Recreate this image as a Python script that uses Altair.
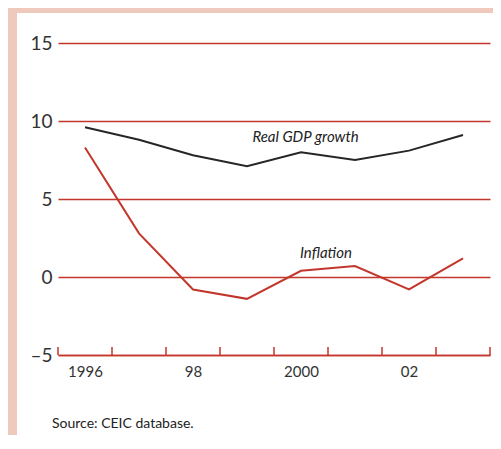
import altair as alt
import pandas as pd

years = [1996, 1997, 1998, 1999, 2000, 2001, 2002, 2003]
gdp_growth = [9.6, 8.8, 7.8, 7.1, 8.0, 7.5, 8.1, 9.1]
inflation = [8.3, 2.8, -0.8, -1.4, 0.4, 0.7, -0.8, 1.2]
y_ticks = [-5, 0, 5, 10, 15]
x_label_years = [1996, 1998, 2000, 2002]
x_label_text = ["1996", "98", "2000", "02"]
series_names = ["Real GDP growth", "Inflation"]
label_x = [1999.1, 1999.98]
label_y = [8.65, 1.2]
source_text = "Source: CEIC database."

RED = "#c3362b"
DARK = "#262626"
PINK = "#efc9bc"
FONT = "Lato"

W, H = 432, 312
PAD_L, PAD_T, PAD_R, PAD_B = 50, 35, 3, 80

df = pd.DataFrame({
    "year": years * 2,
    "value": gdp_growth + inflation,
    "series": [series_names[0]] * len(years) + [series_names[1]] * len(years),
})

x_domain = [years[0] - 0.5, years[-1] + 0.5]
y_domain = [y_ticks[0], y_ticks[-1]]
xs = alt.Scale(domain=x_domain, nice=False, zero=False)
ys = alt.Scale(domain=y_domain, nice=False, zero=False)

label_expr = " : ".join(
    f"datum.value == {yv} ? '{t}'" for yv, t in zip(x_label_years, x_label_text)
) + " : ''"
y_label_expr = "datum.value < 0 ? '\u2013' + abs(datum.value) : datum.label"

x_axis = alt.Axis(
    values=x_label_years, labelExpr=label_expr, title=None, grid=False,
    ticks=False, domainColor=RED, domainWidth=1.5, labelFont=FONT,
    labelFontSize=15, labelColor="#333", labelPadding=9, labelFlush=False)
y_axis = alt.Axis(
    values=y_ticks, labelExpr=y_label_expr, title=None, domain=False,
    ticks=False, grid=True, gridColor=RED, gridWidth=1.4, labelFont=FONT,
    labelFontSize=19, labelColor="#333", labelPadding=6)

lines = alt.Chart(df).mark_line(strokeWidth=2).encode(
    x=alt.X("year:Q", scale=xs, axis=x_axis),
    y=alt.Y("value:Q", scale=ys, axis=y_axis),
    color=alt.Color("series:N", scale=alt.Scale(domain=series_names, range=[DARK, RED]), legend=None),
)

bounds = [y - 0.5 for y in years] + [years[-1] + 0.5]
tick_df = pd.DataFrame({"year": bounds, "value": [y_ticks[0]] * len(bounds),
                        "value2": [y_ticks[0] + 0.52] * len(bounds)})
ticks = alt.Chart(tick_df).mark_rule(color=RED, strokeWidth=1.5).encode(
    x=alt.X("year:Q", scale=xs, axis=x_axis),
    y=alt.Y("value:Q", scale=ys, axis=y_axis),
    y2="value2:Q",
)

lab_df = pd.DataFrame({"year": label_x, "value": label_y, "t": series_names})
labels = alt.Chart(lab_df).mark_text(
    align="left", baseline="alphabetic", font=FONT, fontStyle="italic",
    fontSize=15, color="#222").encode(
    x=alt.X("year:Q", scale=xs, axis=x_axis),
    y=alt.Y("value:Q", scale=ys, axis=y_axis),
    text="t:N",
)

src = alt.Chart(pd.DataFrame({"t": [source_text]})).mark_text(
    align="left", baseline="alphabetic", font=FONT, fontSize=14, color="#222").encode(
    x=alt.value(-6), y=alt.value(385), text="t:N")

frame_df = pd.DataFrame({"k": [0]})
left_strip = alt.Chart(frame_df).mark_rect(color=PINK).encode(
    x=alt.value(-PAD_L), x2=alt.value(-PAD_L + 9),
    y=alt.value(-PAD_T), y2=alt.value(H + PAD_B))
top_strip = alt.Chart(frame_df).mark_rect(color=PINK).encode(
    x=alt.value(-PAD_L), x2=alt.value(W + PAD_R),
    y=alt.value(-PAD_T), y2=alt.value(-PAD_T + 5))

chart = alt.layer(lines, ticks, labels, src, left_strip, top_strip).properties(
    width=W, height=H,
    autosize=alt.AutoSizeParams(type="none"),
    padding={"left": PAD_L, "top": PAD_T, "right": PAD_R, "bottom": PAD_B},
    background="white",
).configure_view(stroke=None)

chart.save("out.html", embed_options={"renderer": "svg", "actions": False})
